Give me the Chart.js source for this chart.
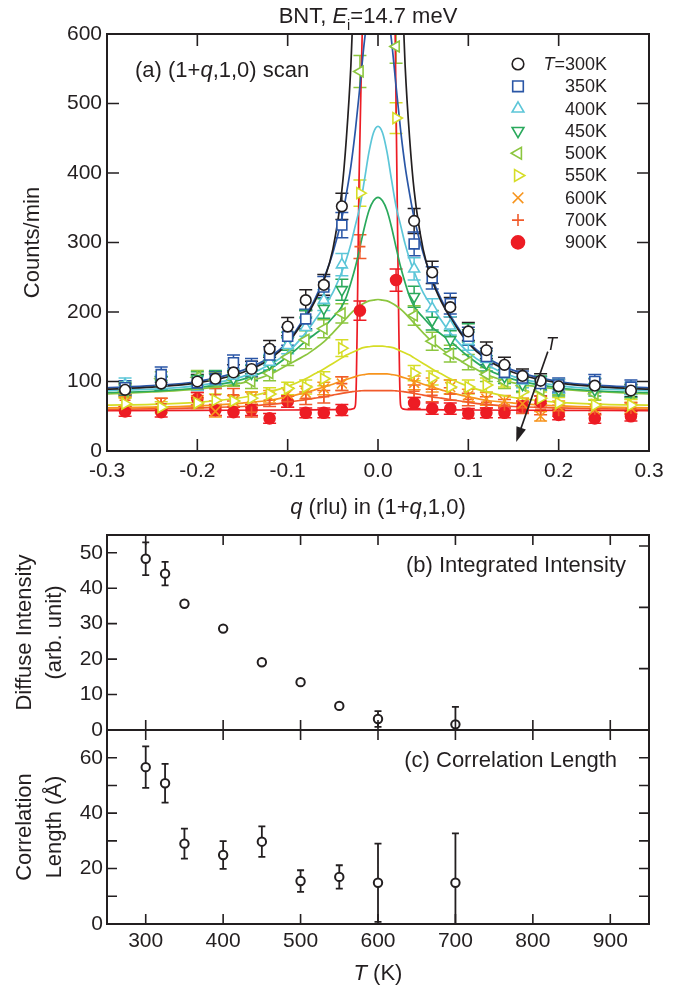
<!DOCTYPE html>
<html>
<head>
<meta charset="utf-8">
<script src="https://cdn.jsdelivr.net/npm/chart.js@4.4.1/dist/chart.umd.min.js"></script>
<style>
  html, body { margin: 0; padding: 0; background: #fff; }
  #fig { position: relative; width: 682px; height: 993px; overflow: hidden; }
  #fig canvas { position: absolute; left: 0; }
</style>
</head>
<body>
<div id="fig">
  <canvas id="scan"></canvas>
  <canvas id="intensity"></canvas>
  <canvas id="corr"></canvas>
</div>
<script>
var INK = "#231f20";
var FONT = '"Liberation Sans", Arial, Helvetica, sans-serif';

/* ── panel (a): (1+q,1,0) scans ── */
var Q_TICKS = [-0.3, -0.2, -0.1, 0, 0.1, 0.2, 0.3];
var COUNT_TICKS = [0, 100, 200, 300, 400, 500, 600];

var Q_PTS = [-0.28, -0.24, -0.2, -0.18, -0.16, -0.14, -0.12, -0.1, -0.08, -0.06, -0.04, -0.02,
             0.02, 0.04, 0.06, 0.08, 0.1, 0.12, 0.14, 0.16, 0.18, 0.2, 0.24, 0.28];

var CNT_300 = [88, 97, 100, 104, 113, 118, 147, 179, 217, 239, 352, null, null, 331, 257, 207, 172, 145, 124, 108, 101, 93, 94, 87];
var CNT_350 = [91, 110, 98, 104, 127, 122, 138, 165, 190, 236, 325, null, null, 298, 249, 212, 165, 136, 113, 105, 97, 95, 100, 92];
var CNT_400 = [95, 99, 97, 100, 108, 113, 128, 152, 178, 217, 268, null, null, 262, 205, 180, 158, 132, 110, 101, 97, 93, 95, 90];
var CNT_450 = [90, 97, 104, 106, 104, 112, 126, 158, 188, 205, 232, null, null, 222, 188, 160, 170, 126, 107, 96, 98, 88, 88, 86];
var CNT_500 = [86, 104, 106, 102, 103, 100, 112, 135, 160, 176, 198, 546, 582, 195, 158, 140, 128, 110, 100, 94, 88, 90, 82, 84];
var CNT_550 = [68, 63, 69, 73, 72, 76, 82, 90, 92, 104, 148, 371, 479, 112, 105, 92, 92, 95, 102, 85, 76, 69, 66, 66];
var CNT_600 = [70, 68, 72, 57, 72, 76, 78, 82, 84, 90, 97, null, null, 98, 95, 92, 80, 75, 72, 68, 50, 64, 60, 62];
var CNT_700 = [73, 68, 75, 81, 81, 56, 73, 71, 76, 78, 97, 294, null, 86, 80, 82, 74, 70, 66, 62, 60, 58, 60, 61];
var CNT_900 = [57, 56, 75, 59, 56, 59, 47, 71, 55, 55, 59, 202, 246, 69, 61, 61, 54, 55, 55, 64, 71, 52, 47, 50];

var ERR_300 = [9, 10, 10, 10, 11, 11, 12, 13, 15, 15, 19, null, null, 18, 16, 14, 13, 12, 11, 10, 10, 10, 10, 9];
var ERR_350 = [10, 11, 10, 10, 11, 11, 12, 13, 14, 15, 18, null, null, 17, 16, 15, 13, 12, 11, 10, 10, 10, 10, 10];
var ERR_400 = [10, 10, 10, 10, 10, 11, 11, 12, 13, 15, 16, null, null, 16, 14, 13, 13, 12, 10, 10, 10, 10, 10, 9];
var ERR_450 = [9, 10, 10, 10, 10, 11, 11, 13, 14, 14, 15, null, null, 15, 14, 13, 13, 11, 10, 10, 10, 9, 9, 9];
var ERR_500 = [9, 10, 10, 10, 10, 10, 11, 12, 13, 13, 14, 23, 24, 14, 13, 12, 11, 10, 10, 10, 9, 9, 9, 9];
var ERR_550 = [8, 8, 8, 9, 8, 9, 9, 9, 10, 10, 12, 19, 22, 11, 10, 10, 10, 10, 10, 9, 9, 8, 8, 8];
var ERR_600 = [8, 8, 8, 8, 8, 9, 9, 9, 9, 9, 10, null, null, 10, 10, 10, 9, 9, 8, 8, 7, 8, 8, 8];
var ERR_700 = [9, 8, 9, 9, 9, 7, 9, 8, 9, 9, 10, 17, null, 9, 9, 9, 9, 8, 8, 8, 8, 8, 8, 8];
var ERR_900 = [7, 7, 9, 8, 7, 8, 7, 8, 7, 7, 8, 14, 16, 8, 8, 8, 7, 7, 7, 8, 8, 7, 7, 7];

// fitted curves
var Q_FIT = [-0.3, -0.25, -0.2, -0.15, -0.12, -0.1, -0.08, -0.07, -0.06, -0.05, -0.04, -0.035, -0.03, -0.025,
             -0.02, -0.015, -0.01, -0.005, 0, 0.005, 0.01, 0.015, 0.02, 0.025, 0.03, 0.035, 0.04, 0.05,
             0.06, 0.07, 0.08, 0.1, 0.12, 0.15, 0.2, 0.25, 0.3];
var FIT_300 = [89, 92, 98, 113, 132, 155, 192, 215, 245, 290, 375, 450, 555, 720, 950, 1200, 1400, 1500, 1550,
               1500, 1400, 1200, 950, 720, 555, 450, 375, 290, 245, 215, 192, 155, 132, 113, 98, 92, 89];
var FIT_350 = [91, 94, 100, 116, 135, 157, 195, 218, 248, 285, 335, 370, 410, 462, 525, 590, 640, 670, 680,
               670, 640, 590, 525, 462, 410, 370, 335, 285, 248, 218, 195, 157, 135, 116, 100, 94, 91];
var FIT_400 = [87, 89, 94, 107, 124, 142, 170, 188, 207, 228, 258, 276, 298, 325, 352, 390, 430, 458, 467,
               458, 430, 390, 352, 325, 298, 276, 258, 228, 207, 188, 170, 142, 124, 107, 94, 89, 87];
var FIT_450 = [84, 86, 91, 103, 118, 136, 158, 168, 178, 192, 208, 222, 242, 265, 293, 322, 346, 360, 365,
               360, 346, 322, 293, 265, 242, 222, 208, 192, 178, 168, 158, 136, 118, 103, 91, 86, 84];
var FIT_500 = [82, 85, 89, 98, 110, 124, 138, 147, 157, 170, 184, 191, 198, 204, 209, 213, 216, 217, 218,
               217, 216, 213, 209, 204, 198, 191, 184, 170, 157, 147, 138, 124, 110, 98, 89, 85, 82];
var FIT_550 = [66, 67, 70, 77, 85, 93, 104, 111, 118, 126, 134, 138, 141, 144, 147, 149, 150, 151, 151,
               151, 150, 149, 147, 144, 141, 138, 134, 126, 118, 111, 104, 93, 85, 77, 70, 67, 66];
var FIT_600 = [62, 63, 65, 69, 73, 78, 84, 88, 92, 96, 101, 103, 105, 107, 109, 110, 111, 111, 111,
               111, 111, 110, 109, 107, 105, 103, 101, 96, 92, 88, 84, 78, 73, 69, 65, 63, 62];
var FIT_700 = [60, 60.5, 62, 64, 67, 70, 74, 76, 78, 80.5, 83, 84, 85, 86, 86.5, 87, 87, 87, 87,
               87, 87, 87, 86.5, 86, 85, 84, 83, 80.5, 78, 76, 74, 70, 67, 64, 62, 60.5, 60];
var Q_FIT_900 = [-0.3, -0.2, -0.1, -0.05, -0.03, -0.027, -0.025, -0.024, -0.023, -0.021, -0.0175, -0.015, 0,
                 0.016, 0.019, 0.021, 0.023, 0.024, 0.025, 0.027, 0.03, 0.05, 0.1, 0.2, 0.3];
var FIT_900 = [58, 58.5, 59, 59.5, 60, 61, 66, 100, 180, 390, 600, 800, 1800,
               800, 600, 390, 180, 100, 66, 61, 60, 59.5, 59, 58.5, 58];

// arrow annotation "T" (data coordinates)
var ARROW_FROM = [0.188, 143];
var ARROW_TO = [0.153, 13];
var ARROW_LABEL = [0.192, 153];

/* ── panels (b) and (c): vs temperature ── */
var T_TICKS = [300, 400, 500, 600, 700, 800, 900];
var INT_TICKS = [0, 10, 20, 30, 40, 50];
var INT_TICKS_RIGHT = [17.3, 34.6, 51.9];
var LEN_TICKS = [0, 10, 20, 30, 40, 50, 60];
var TEMPS = [300, 325, 350, 400, 450, 500, 550, 600, 700];
var INTENSITY = [48.3, 44.1, 35.6, 28.6, 19.1, 13.5, 6.8, 3.1, 1.6];
var INTENSITY_ERR = [4.6, 3.3, 0.8, 0.6, 0.6, 0.7, 0.5, 2.2, 4.9];
var CORR_LEN = [56.6, 50.8, 29.0, 24.9, 29.7, 15.5, 17.0, 14.9, 14.9];
var CORR_LEN_ERR = [7.5, 7.0, 5.4, 5.0, 5.5, 3.9, 4.2, 14.1, 17.8];

var SERIES = [
  { name: "300K", color: "#231f20", style: "circle", rot: 0, r: 5.3, counts: CNT_300, err: ERR_300, q: Q_FIT, fit: FIT_300 },
  { name: "350K", color: "#2a56a6", style: "rect", rot: 0, r: 7, counts: CNT_350, err: ERR_350, q: Q_FIT, fit: FIT_350 },
  { name: "400K", color: "#5cc6d8", style: "triangle", rot: 0, r: 6.3, counts: CNT_400, err: ERR_400, q: Q_FIT, fit: FIT_400 },
  { name: "450K", color: "#2aa95c", style: "triangle", rot: 180, r: 6.3, counts: CNT_450, err: ERR_450, q: Q_FIT, fit: FIT_450 },
  { name: "500K", color: "#8cc63f", style: "triangle", rot: 270, r: 6.3, counts: CNT_500, err: ERR_500, q: Q_FIT, fit: FIT_500 },
  { name: "550K", color: "#d6dd26", style: "triangle", rot: 90, r: 6.3, counts: CNT_550, err: ERR_550, q: Q_FIT, fit: FIT_550 },
  { name: "600K", color: "#f7941d", style: "crossRot", rot: 0, r: 7, counts: CNT_600, err: ERR_600, q: Q_FIT, fit: FIT_600 },
  { name: "700K", color: "#f15a2b", style: "cross", rot: 0, r: 5.5, counts: CNT_700, err: ERR_700, q: Q_FIT, fit: FIT_700 },
  { name: "900K", color: "#ed1c24", style: "circle", rot: 0, r: 5.5, filled: true, counts: CNT_900, err: ERR_900, q: Q_FIT_900, fit: FIT_900 }
];

Chart.defaults.font.family = FONT;
Chart.defaults.color = INK;

function pts(xs, ys) {
  return xs.map(function (x, i) { return { x: x, y: ys[i] }; });
}

function setFont(ctx, size, italic) {
  ctx.font = (italic ? "italic " : "") + size + "px " + FONT;
}

// text with italic / subscript runs
function drawRich(ctx, parts, x, y, size, align) {
  var w = 0;
  parts.forEach(function (p) {
    setFont(ctx, p.sub ? size * 0.66 : size, p.it);
    w += ctx.measureText(p.t).width;
  });
  var cx = align === "center" ? x - w / 2 : align === "right" ? x - w : x;
  ctx.textAlign = "left";
  parts.forEach(function (p) {
    var s = p.sub ? size * 0.66 : size;
    setFont(ctx, s, p.it);
    ctx.fillText(p.t, cx, y + (p.sub ? size * 0.3 : 0));
    cx += ctx.measureText(p.t).width;
  });
}

function setupCanvas(id, top, height) {
  var c = document.getElementById(id);
  c.width = 682;
  c.height = height;
  c.style.top = top + "px";
  c.style.width = "682px";
  c.style.height = height + "px";
  return c;
}

// inward tick marks on all four sides + frame; right side may use its own list
function frameTicks(len, rightTicks) {
  return {
    id: "frameTicks",
    afterDraw: function (chart) {
      var ctx = chart.ctx, a = chart.chartArea, sx = chart.scales.x, sy = chart.scales.y;
      var right = rightTicks || sy.ticks.map(function (t) { return t.value; });
      ctx.save();
      ctx.strokeStyle = INK;
      ctx.lineWidth = 1.6;
      ctx.beginPath();
      sx.ticks.forEach(function (t) {
        var p = sx.getPixelForValue(t.value);
        ctx.moveTo(p, a.bottom); ctx.lineTo(p, a.bottom - len);
        ctx.moveTo(p, a.top); ctx.lineTo(p, a.top + len);
      });
      sy.ticks.forEach(function (t) {
        var p = sy.getPixelForValue(t.value);
        ctx.moveTo(a.left, p); ctx.lineTo(a.left + len, p);
      });
      right.forEach(function (v) {
        var p = sy.getPixelForValue(v);
        ctx.moveTo(a.right, p); ctx.lineTo(a.right - len, p);
      });
      ctx.stroke();
      ctx.lineWidth = 2;
      ctx.strokeRect(a.left, a.top, a.right - a.left, a.bottom - a.top);
      ctx.restore();
    }
  };
}

// vertical error bars with caps, from dataset.errors
var errorBars = {
  id: "errorBars",
  beforeDatasetsDraw: function (chart) {
    var ctx = chart.ctx, a = chart.chartArea, sy = chart.scales.y;
    ctx.save();
    ctx.beginPath();
    ctx.rect(a.left, a.top, a.right - a.left, a.bottom - a.top);
    ctx.clip();
    chart.data.datasets.forEach(function (ds, i) {
      if (!ds.errors) return;
      var meta = chart.getDatasetMeta(i);
      ctx.strokeStyle = ds.errColor || ds.borderColor;
      ctx.lineWidth = ds.errWidth || 1.5;
      ctx.beginPath();
      meta.data.forEach(function (el, j) {
        var d = ds.data[j], e = ds.errors[j];
        if (!d || d.y == null || e == null) return;
        var x = el.x, hi = sy.getPixelForValue(d.y + e), lo = sy.getPixelForValue(d.y - e), c = ds.cap;
        ctx.moveTo(x, hi); ctx.lineTo(x, lo);
        ctx.moveTo(x - c, hi); ctx.lineTo(x + c, hi);
        ctx.moveTo(x - c, lo); ctx.lineTo(x + c, lo);
      });
      ctx.stroke();
    });
    ctx.restore();
  }
};

function fixedTicks(list) {
  return function (scale) {
    scale.ticks = list.map(function (v) { return { value: v }; });
  };
}

function drawMarker(ctx, s, x, y) {
  ctx.save();
  ctx.strokeStyle = s.color;
  ctx.fillStyle = s.filled ? s.color : "#fff";
  ctx.lineWidth = 1.6;
  if (Chart.helpers && Chart.helpers.drawPoint) {
    Chart.helpers.drawPoint(ctx, { pointStyle: s.style, rotation: s.rot, radius: s.filled ? 6.5 : s.r + 0.5, borderWidth: 1.6 }, x, y);
  }
  ctx.restore();
}

/* ── chart (a) ── */
var canvasA = setupCanvas("scan", 0, 530);

var datasetsA = [];
SERIES.forEach(function (s) {
  datasetsA.push({
    type: "scatter",
    data: pts(Q_PTS, s.counts),
    errors: s.err,
    cap: 6.5,
    pointStyle: s.style,
    rotation: s.rot,
    radius: s.r,
    borderWidth: 1.6,
    borderColor: s.color,
    backgroundColor: s.filled ? s.color : "#fff",
    showLine: false
  });
});
SERIES.forEach(function (s) {
  datasetsA.push({
    type: "line",
    data: pts(s.q, s.fit),
    borderColor: s.color,
    borderWidth: 1.7,
    pointRadius: 0,
    fill: false,
    cubicInterpolationMode: "monotone"
  });
});

var decorA = {
  id: "decorA",
  afterDraw: function (chart) {
    var ctx = chart.ctx, sx = chart.scales.x, sy = chart.scales.y, a = chart.chartArea;
    ctx.save();
    ctx.fillStyle = INK;
    ctx.textBaseline = "alphabetic";
    drawRich(ctx, [{ t: "BNT, " }, { t: "E", it: true }, { t: "i", sub: true }, { t: "=14.7 meV" }], 368, 23, 22, "center");
    drawRich(ctx, [{ t: "(a) (1+" }, { t: "q", it: true }, { t: ",1,0) scan" }], a.left + 28, a.top + 43, 22, "left");
    drawRich(ctx, [{ t: "q", it: true }, { t: " (rlu) in (1+" }, { t: "q", it: true }, { t: ",1,0)" }], (a.left + a.right) / 2, 514, 22, "center");

    // legend
    ctx.textBaseline = "middle";
    SERIES.forEach(function (s, i) {
      var y = a.top + 30 + i * 22.3;
      drawMarker(ctx, s, a.left + 411, y);
      ctx.fillStyle = INK;
      var parts = i === 0 ? [{ t: "T", it: true }, { t: "=" + s.name }] : [{ t: s.name }];
      drawRich(ctx, parts, a.right - 42, y + 1, 18, "right");
    });

    // temperature arrow
    var x1 = sx.getPixelForValue(ARROW_FROM[0]), y1 = sy.getPixelForValue(ARROW_FROM[1]);
    var x2 = sx.getPixelForValue(ARROW_TO[0]), y2 = sy.getPixelForValue(ARROW_TO[1]);
    var ang = Math.atan2(y2 - y1, x2 - x1), hl = 15, hw = 5;
    ctx.strokeStyle = INK;
    ctx.lineWidth = 1.6;
    ctx.beginPath();
    ctx.moveTo(x1, y1);
    ctx.lineTo(x2 - Math.cos(ang) * hl * 0.8, y2 - Math.sin(ang) * hl * 0.8);
    ctx.stroke();
    ctx.fillStyle = INK;
    ctx.beginPath();
    ctx.moveTo(x2, y2);
    ctx.lineTo(x2 - Math.cos(ang) * hl - Math.sin(ang) * hw, y2 - Math.sin(ang) * hl + Math.cos(ang) * hw);
    ctx.lineTo(x2 - Math.cos(ang) * hl + Math.sin(ang) * hw, y2 - Math.sin(ang) * hl - Math.cos(ang) * hw);
    ctx.closePath();
    ctx.fill();
    drawRich(ctx, [{ t: "T", it: true }], sx.getPixelForValue(ARROW_LABEL[0]), sy.getPixelForValue(ARROW_LABEL[1]), 18, "center");

    // y title
    ctx.translate(33, (a.top + a.bottom) / 2);
    ctx.rotate(-Math.PI / 2);
    drawRich(ctx, [{ t: "Counts/min" }], 0, 0, 22, "center");
    ctx.restore();
  }
};

new Chart(canvasA, {
  type: "scatter",
  data: { datasets: datasetsA },
  options: {
    responsive: false,
    animation: false,
    events: [],
    layout: { padding: { top: 34, right: 33, left: 0, bottom: 0 } },
    plugins: { legend: { display: false }, tooltip: { enabled: false } },
    scales: {
      x: {
        type: "linear", min: -0.3, max: 0.3,
        grid: { display: false, drawTicks: false },
        border: { display: false },
        afterBuildTicks: fixedTicks(Q_TICKS),
        afterFit: function (s) { s.height = 530 - 451; },
        ticks: { padding: 8, autoSkip: false, maxRotation: 0, font: { size: 21 }, color: INK,
                 callback: function (v) { return Number(v).toFixed(1); } }
      },
      y: {
        type: "linear", min: 0, max: 600,
        grid: { display: false, drawTicks: false },
        border: { display: false },
        afterBuildTicks: fixedTicks(COUNT_TICKS),
        afterFit: function (s) { s.width = 107; },
        ticks: { padding: 5, font: { size: 21 }, color: INK }
      }
    }
  },
  plugins: [errorBars, frameTicks(12), decorA]
});

/* ── chart (b) ── */
var canvasB = setupCanvas("intensity", 515, 235);

var decorB = {
  id: "decorB",
  afterDraw: function (chart) {
    var ctx = chart.ctx, a = chart.chartArea;
    ctx.save();
    ctx.fillStyle = INK;
    ctx.textBaseline = "alphabetic";
    drawRich(ctx, [{ t: "(b) Integrated Intensity" }], a.right - 23, a.top + 37, 22, "right");
    ctx.translate(0, (a.top + a.bottom) / 2);
    ctx.rotate(-Math.PI / 2);
    ctx.textBaseline = "middle";
    drawRich(ctx, [{ t: "Diffuse Intensity" }], 0, 25, 22, "center");
    drawRich(ctx, [{ t: "(arb. unit)" }], 0, 55, 22, "center");
    ctx.restore();
  }
};

new Chart(canvasB, {
  type: "scatter",
  data: {
    datasets: [{
      data: pts(TEMPS, INTENSITY),
      errors: INTENSITY_ERR,
      cap: 3.5,
      errWidth: 1.8,
      pointStyle: "circle",
      radius: 4.2,
      borderWidth: 2,
      borderColor: INK,
      backgroundColor: "#fff"
    }]
  },
  options: {
    responsive: false,
    animation: false,
    events: [],
    layout: { padding: { top: 20, right: 33, left: 0, bottom: 0 } },
    plugins: { legend: { display: false }, tooltip: { enabled: false } },
    scales: {
      x: {
        type: "linear", min: 250, max: 950,
        grid: { display: false, drawTicks: false },
        border: { display: false },
        afterBuildTicks: fixedTicks(T_TICKS),
        afterFit: function (s) { s.height = 20; },
        ticks: { display: false }
      },
      y: {
        type: "linear", min: 0, max: 55,
        grid: { display: false, drawTicks: false },
        border: { display: false },
        afterBuildTicks: fixedTicks(INT_TICKS),
        afterFit: function (s) { s.width = 107; },
        ticks: { padding: 4, font: { size: 21 }, color: INK }
      }
    }
  },
  plugins: [errorBars, frameTicks(10, INT_TICKS_RIGHT), decorB]
});

/* ── chart (c) ── */
var canvasC = setupCanvas("corr", 700, 293);

var decorC = {
  id: "decorC",
  afterDraw: function (chart) {
    var ctx = chart.ctx, a = chart.chartArea;
    ctx.save();
    ctx.fillStyle = INK;
    ctx.textBaseline = "alphabetic";
    drawRich(ctx, [{ t: "(c) Correlation Length" }], a.right - 32, a.top + 37, 22, "right");
    drawRich(ctx, [{ t: "T", it: true }, { t: " (K)" }], (a.left + a.right) / 2, 280, 22, "center");
    ctx.translate(0, (a.top + a.bottom) / 2);
    ctx.rotate(-Math.PI / 2);
    ctx.textBaseline = "middle";
    drawRich(ctx, [{ t: "Correlation" }], 0, 25, 22, "center");
    drawRich(ctx, [{ t: "Length (\u00c5)" }], 0, 55, 22, "center");
    ctx.restore();
  }
};

new Chart(canvasC, {
  type: "scatter",
  data: {
    datasets: [{
      data: pts(TEMPS, CORR_LEN),
      errors: CORR_LEN_ERR,
      cap: 3.5,
      errWidth: 1.8,
      pointStyle: "circle",
      radius: 4.2,
      borderWidth: 2,
      borderColor: INK,
      backgroundColor: "#fff"
    }]
  },
  options: {
    responsive: false,
    animation: false,
    events: [],
    layout: { padding: { top: 30, right: 33, left: 0, bottom: 0 } },
    plugins: { legend: { display: false }, tooltip: { enabled: false } },
    scales: {
      x: {
        type: "linear", min: 250, max: 950,
        grid: { display: false, drawTicks: false },
        border: { display: false },
        afterBuildTicks: fixedTicks(T_TICKS),
        afterFit: function (s) { s.height = 993 - 924; },
        ticks: { padding: 5, autoSkip: false, maxRotation: 0, font: { size: 21 }, color: INK }
      },
      y: {
        type: "linear", min: 0, max: 70,
        grid: { display: false, drawTicks: false },
        border: { display: false },
        afterBuildTicks: fixedTicks(LEN_TICKS),
        afterFit: function (s) { s.width = 107; },
        ticks: { padding: 4, font: { size: 21 }, color: INK,
                 callback: function (v) { return v % 20 === 0 ? v : ""; } }
      }
    }
  },
  plugins: [errorBars, frameTicks(10), decorC]
});
</script>
</body>
</html>
